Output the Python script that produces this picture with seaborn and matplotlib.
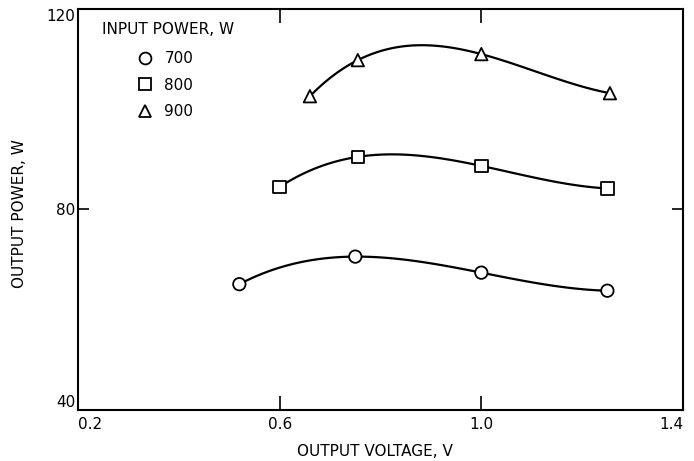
import numpy as np
import pandas as pd
import matplotlib
matplotlib.use("Agg")
import matplotlib.pyplot as plt
import seaborn as sns
from matplotlib.lines import Line2D

# ---- data ----
series_labels = ["700", "800", "900"]
volt_700 = [0.52, 0.75, 1.00, 1.25]
pow_700 = [65.1, 70.6, 67.4, 63.8]
volt_800 = [0.60, 0.755, 1.00, 1.25]
pow_800 = [84.5, 90.5, 88.7, 84.2]
volt_900 = [0.66, 0.755, 1.00, 1.255]
pow_900 = [102.6, 109.8, 111.0, 103.2]
x_ticks = [0.2, 0.6, 1.0, 1.4]
y_ticks = [40, 80, 120]
legend_title = "INPUT POWER, W"
x_label = "OUTPUT VOLTAGE, V"
y_label = "OUTPUT POWER, W"

series = {
    "700": (volt_700, pow_700),
    "800": (volt_800, pow_800),
    "900": (volt_900, pow_900),
}
rows = []
for lab, (v, p) in series.items():
    for vi, pi in zip(v, p):
        rows.append({"voltage": vi, "power": pi, "input": lab})
df = pd.DataFrame(rows)

sns.set_theme(style="white", rc={"text.color": "black", "axes.labelcolor": "black",
                                 "xtick.color": "black", "ytick.color": "black"})
plt.rcParams["font.family"] = ["DejaVu Sans"]

fig = plt.figure(figsize=(6.94, 4.61), dpi=100)
ax = fig.add_axes([78 / 694, 1 - 410 / 461, 605 / 694, 401 / 461])

markers = {"700": "o", "800": "s", "900": "^"}

for lab, (v, p) in series.items():
    sns.regplot(x=np.array(v), y=np.array(p), order=3, ci=None, scatter=False,
                truncate=True, ax=ax,
                line_kws=dict(color="black", lw=1.6, zorder=2))

sns.scatterplot(data=df, x="voltage", y="power", style="input",
                markers=markers, s=80, color="white", edgecolor="black",
                linewidth=1.3, legend=False, zorder=3, ax=ax)

ax.set_xlim(0.2, 1.4)
ax.set_ylim(40, 120)
ax.set_xticks(x_ticks)
ax.set_yticks(y_ticks)
ax.set_xticklabels([f"{t:.1f}" for t in x_ticks])
ax.set_yticklabels([str(t) for t in y_ticks])

ax.tick_params(axis="x", direction="in", top=True, bottom=True, length=10,
               width=1.2, color="black", labelsize=11, pad=5)
ax.tick_params(axis="y", direction="in", left=True, right=True, length=8,
               width=1.2, color="black", labelsize=11, pad=2)
xt = ax.get_xticklabels()
xt[0].set_ha("left")
xt[-1].set_ha("right")
yt = ax.get_yticklabels()
yt[0].set_va("bottom")
yt[-1].set_va("top")
for sp in ax.spines.values():
    sp.set_color("black")
    sp.set_linewidth(1.5)

ax.set_xlabel(x_label, fontsize=11, color="black")
ax.set_ylabel(y_label, fontsize=11, color="black")
ax.xaxis.set_label_coords(0.49, -0.085)
ax.yaxis.set_label_coords(-0.084, 0.49)

# legend
ax.text(0.04, 0.948, legend_title, transform=ax.transAxes, fontsize=11,
        ha="left", va="center", color="black")
handles = [Line2D([], [], marker=markers[l], linestyle="none", markersize=8.5,
                  markerfacecolor="white", markeredgecolor="black",
                  markeredgewidth=1.3) for l in series_labels]
ax.legend(handles, series_labels, loc="upper left",
          bbox_to_anchor=(0.0975, 0.895), frameon=False, fontsize=11,
          handlelength=1.0, handletextpad=0.8, labelspacing=0.75,
          borderpad=0, borderaxespad=0)

fig.savefig("out.png", dpi=100)
